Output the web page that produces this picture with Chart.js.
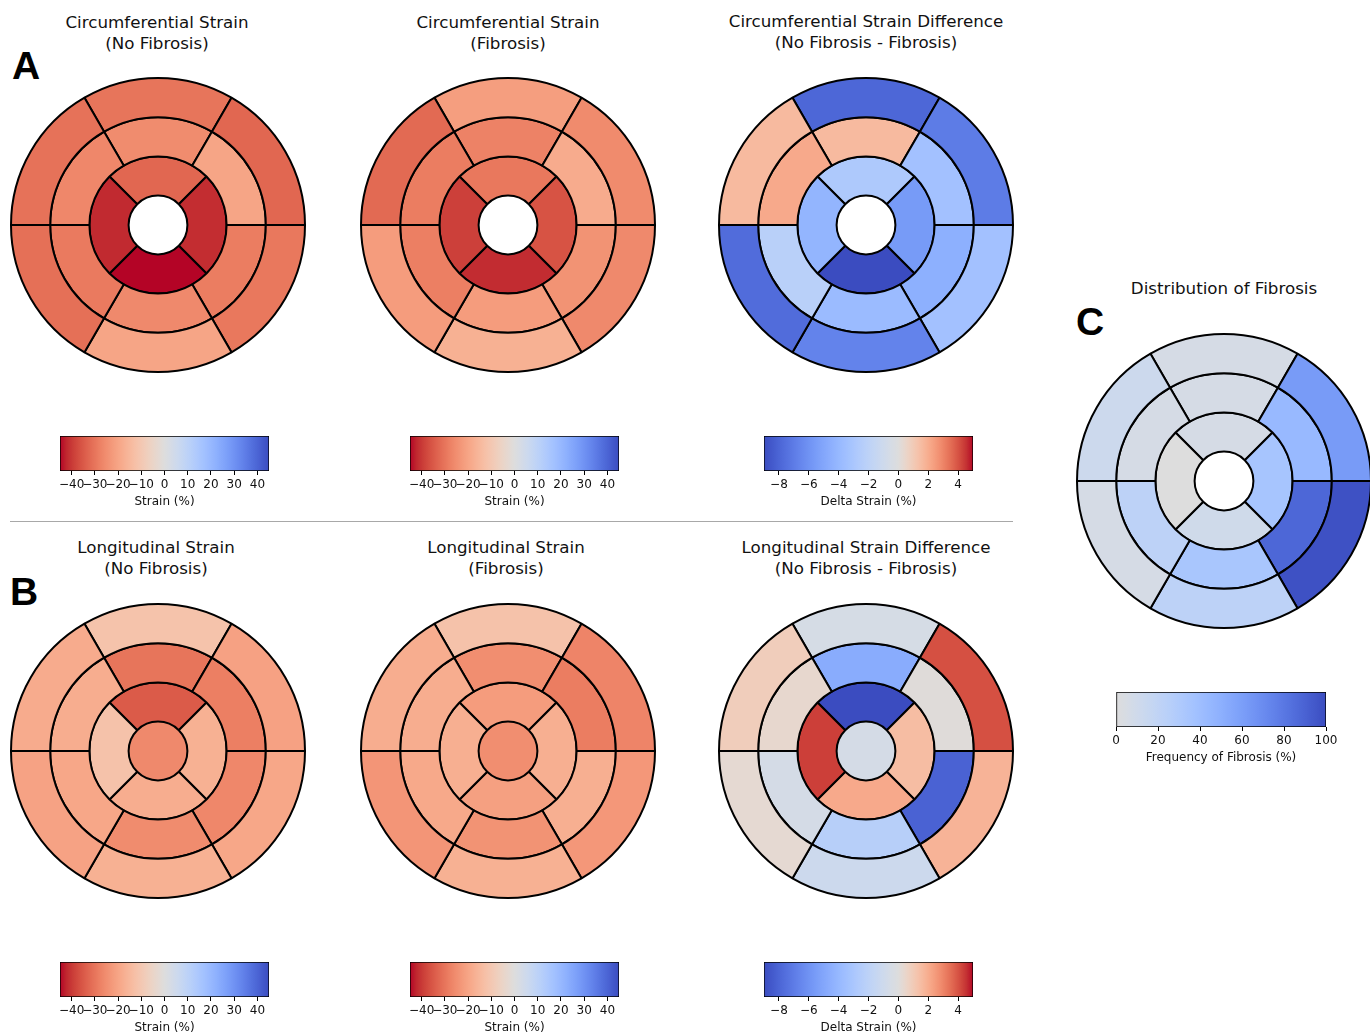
<!DOCTYPE html>
<html>
<head>
<meta charset="utf-8">
<script src="https://cdn.jsdelivr.net/npm/chart.js@4.4.1/dist/chart.umd.min.js"></script>
<style>
body { margin: 0; background: #fff; width: 1370px; height: 1033px; position: relative; overflow: hidden;
       font-family: "DejaVu Sans", sans-serif; color: #111; }
canvas { position: absolute; }
.title { position: absolute; font-size: 16.7px; line-height: 21px; text-align: center; white-space: nowrap; transform: translateX(-50%); }
.letter { position: absolute; font-family: "Liberation Sans", Arial, sans-serif; font-weight: bold; font-size: 39px; line-height: 1; color: #000; }
.sep { position: absolute; left: 10px; top: 521px; width: 1003px; height: 0; border-top: 1.5px solid #a8a8a8; }
</style>
</head>
<body>

<div class="letter" style="left:12px; top:46px;">A</div>
<div class="letter" style="left:10px; top:572px;">B</div>
<div class="letter" style="left:1076px; top:302px;">C</div>

<div class="title" style="left:157px; top:11.5px;">Circumferential Strain<br>(No Fibrosis)</div>
<div class="title" style="left:508px; top:11.5px;">Circumferential Strain<br>(Fibrosis)</div>
<div class="title" style="left:866px; top:10.5px;">Circumferential Strain Difference<br>(No Fibrosis - Fibrosis)</div>
<div class="title" style="left:156px; top:537px;">Longitudinal Strain<br>(No Fibrosis)</div>
<div class="title" style="left:506px; top:537px;">Longitudinal Strain<br>(Fibrosis)</div>
<div class="title" style="left:866px; top:537px;">Longitudinal Strain Difference<br>(No Fibrosis - Fibrosis)</div>
<div class="title" style="left:1224px; top:278px;">Distribution of Fibrosis</div>

<div class="sep"></div>

<canvas id="bullCircNoFib" width="310" height="310" style="left:3px; top:70px;"></canvas>
<canvas id="bullCircFib" width="310" height="310" style="left:353px; top:70px;"></canvas>
<canvas id="bullCircDiff" width="310" height="310" style="left:711px; top:70px;"></canvas>
<canvas id="bullLongNoFib" width="310" height="310" style="left:3px; top:596px;"></canvas>
<canvas id="bullLongFib" width="310" height="310" style="left:353px; top:596px;"></canvas>
<canvas id="bullLongDiff" width="310" height="310" style="left:711px; top:596px;"></canvas>
<canvas id="bullFibrosis" width="310" height="310" style="left:1069px; top:326px;"></canvas>

<canvas id="cbCircNoFib" width="259" height="79" style="left:35px; top:434px;"></canvas>
<canvas id="cbCircFib" width="259" height="79" style="left:385px; top:434px;"></canvas>
<canvas id="cbCircDiff" width="259" height="79" style="left:739px; top:434px;"></canvas>
<canvas id="cbLongNoFib" width="259" height="79" style="left:35px; top:960px;"></canvas>
<canvas id="cbLongFib" width="259" height="79" style="left:385px; top:960px;"></canvas>
<canvas id="cbLongDiff" width="259" height="79" style="left:739px; top:960px;"></canvas>
<canvas id="cbFibrosis" width="260" height="79" style="left:1091px; top:690px;"></canvas>

<script>
// Segment values in AHA order: 1-6 basal, 7-12 mid, 13-16 apical, 17 apex
// (1 anterior, 2 anteroseptal, 3 inferoseptal, 4 inferior, 5 inferolateral, 6 anterolateral;
//  13 anterior, 14 septal, 15 inferior, 16 lateral)
const circNoFibrosis = [-30, -30.5, -31, -20, -29.5, -32.5,
                        -25.5, -26.5, -29, -26, -28.5, -20,
                        -32.5, -42, -45, -41.5];
const circFibrosis = [-21.6, -32, -22, -17, -26, -25.7,
                      -27.5, -28.5, -28, -22, -24, -18.5,
                      -29.5, -39, -41.7, -36];
const circDifference = [-7.9, 1.6, -7.7, -6.7, -3.4, -7.0,
                        1.6, 2.1, -2.2, -3.8, -4.5, -3.4,
                        -2.8, -4.2, -9, -5.6];
const longNoFibrosis = [-11.7, -18.5, -20.5, -17, -19.5, -20.7,
                        -30, -18, -19.5, -25.5, -26.5, -28,
                        -34.6, -12, -18, -17,
                        -26];
const longFibrosis = [-12, -18, -23.5, -17, -23, -27,
                      -25, -18, -19, -24, -17.5, -28.5,
                      -22, -17.5, -21, -17.5,
                      -25];
const longDifference = [-0.5, 0.9, 0.3, -1.1, 1.8, 4.06,
                        -4.7, 0.4, -0.6, -2.3, -8.1, 0.1,
                        -9, 4.35, 2.1, 1.5,
                        -0.6];
const fibrosisFrequency = [6, 12, 6, 22, 98, 62,
                           6, 6, 22, 34, 88, 44,
                           6, 0, 10, 35];

// colour ranges and tick labels of the colour bars
const strainRange = [-45, 45];
const strainTicks = [-40, -30, -20, -10, 0, 10, 20, 30, 40];
const deltaRange = [-9, 5];
const deltaTicks = [-8, -6, -4, -2, 0, 2, 4];
const fibrosisRange = [0, 100];
const fibrosisTicks = [0, 20, 40, 60, 80, 100];

const FONT = '"DejaVu Sans", sans-serif';

// matplotlib coolwarm, 33 evenly spaced points
const CW_R = [0.2298057, 0.26623388, 0.30386891, 0.342804478, 0.38301334, 0.424369608, 0.46666708, 0.509635204,
  0.552953156, 0.596262162, 0.639176211, 0.681291281, 0.722193294, 0.761464949, 0.798691636, 0.833466556,
  0.865395197, 0.897787179, 0.924127593, 0.944468518, 0.958852946, 0.96732803, 0.969954137, 0.966811177,
  0.958003065, 0.943660866, 0.923944917, 0.89904617, 0.869186849, 0.834620542, 0.795631745, 0.752534934, 0.705673158];
const CW_G = [0.298717966, 0.353094838, 0.406535296, 0.458757618, 0.50941904, 0.558148092, 0.604562568, 0.648280772,
  0.688929332, 0.726149107, 0.759599947, 0.788964712, 0.813952739, 0.834302879, 0.849786142, 0.860207984,
  0.86541021, 0.848937047, 0.827384882, 0.800927443, 0.769767752, 0.734132809, 0.694266682, 0.650421156,
  0.602842431, 0.551750968, 0.49730856, 0.439559467, 0.378313092, 0.312874446, 0.24128379, 0.157246067, 0.01555616];
const CW_B = [0.753683153, 0.801466763, 0.84495867, 0.883725899, 0.917387822, 0.945619588, 0.968154911, 0.98478814,
  0.995375608, 0.999836203, 0.998151185, 0.990363227, 0.976574709, 0.956945269, 0.931688648, 0.901068838,
  0.865395561, 0.820880546, 0.774508472, 0.726736146, 0.678007945, 0.628751763, 0.579375448, 0.530263762,
  0.481775914, 0.434243684, 0.387970225, 0.343229596, 0.300267182, 0.259301199, 0.220525627, 0.184115123, 0.150232812];

function coolwarm(t) {
    t = Math.min(1, Math.max(0, t));
    const x = t * 32;
    const i = Math.min(31, Math.floor(x));
    const f = x - i;
    const ch = arr => Math.round(255 * (arr[i] + (arr[i + 1] - arr[i]) * f));
    return `rgb(${ch(CW_R)},${ch(CW_G)},${ch(CW_B)})`;
}

// strain uses reversed coolwarm (red = more negative)
const strainColor = v => coolwarm(1 - (v - strainRange[0]) / (strainRange[1] - strainRange[0]));
// delta uses a two-slope norm centred at 0
const deltaColor = v => coolwarm(v < 0 ? 0.5 * (v - deltaRange[0]) / (0 - deltaRange[0])
                                       : 0.5 + 0.5 * v / deltaRange[1]);
// fibrosis uses the blue half of coolwarm
const fibrosisColor = v => coolwarm(0.5 - 0.5 * (v - fibrosisRange[0]) / (fibrosisRange[1] - fibrosisRange[0]));


// one doughnut ring per AHA level, drawn clockwise from the top
function drawBullseye(id, values, colorOf) {
    const basal = [0, 5, 4, 3, 2, 1].map(i => values[i]);
    const mid = [6, 11, 10, 9, 8, 7].map(i => values[i]);
    const apical = [12, 15, 14, 13].map(i => values[i]);
    const apex = values.length > 16 ? values[16] : null;

    const ring = (vals, rot) => ({
        data: vals.map(() => 1),
        backgroundColor: vals.map(colorOf),
        borderColor: "#000",
        borderWidth: 2,
        rotation: rot,
        weight: 1
    });

    new Chart(document.getElementById(id), {
        type: "doughnut",
        data: {
            datasets: [
                ring(basal, -30),
                ring(mid, -30),
                ring(apical, -45),
                {
                    data: [1],
                    backgroundColor: apex === null ? "#ffffff" : colorOf(apex),
                    borderWidth: 0,
                    weight: 0.75
                }
            ]
        },
        options: {
            responsive: false,
            animation: false,
            events: [],
            cutout: 0,
            radius: 147,
            plugins: { legend: { display: false }, tooltip: { enabled: false } }
        }
    });
}

function barGradient(chart, lo, hi, colorOf) {
    const area = chart.chartArea;
    if (!area) return null;
    const g = chart.ctx.createLinearGradient(area.left, 0, area.right, 0);
    const n = 64;
    for (let i = 0; i <= n; i++) {
        g.addColorStop(i / n, colorOf(lo + (hi - lo) * i / n));
    }
    return g;
}

// colour bar = one floating horizontal bar filled with the colormap
function drawColorbar(id, range, ticks, label, colorOf) {
    new Chart(document.getElementById(id), {
        type: "bar",
        data: {
            labels: [""],
            datasets: [{
                data: [range],
                backgroundColor: ctx => barGradient(ctx.chart, range[0], range[1], colorOf),
                borderColor: "#000",
                borderWidth: 1,
                borderSkipped: false,
                barPercentage: 1,
                categoryPercentage: 1
            }]
        },
        options: {
            indexAxis: "y",
            responsive: false,
            animation: false,
            events: [],
            layout: { padding: { left: 25, right: 25, top: 2, bottom: 4 } },
            plugins: { legend: { display: false }, tooltip: { enabled: false } },
            scales: {
                x: {
                    type: "linear",
                    min: range[0],
                    max: range[1],
                    afterBuildTicks: s => { s.ticks = ticks.map(v => ({ value: v })); },
                    afterFit: s => { s.height = 38; },
                    grid: { display: true, drawOnChartArea: false, drawTicks: true, tickLength: 4, color: "#000", lineWidth: 1 },
                    border: { display: false },
                    ticks: {
                        color: "#111",
                        font: { family: FONT, size: 12 },
                        padding: 3,
                        maxRotation: 0,
                        autoSkip: false,
                        callback: v => String(v).replace("-", "\u2212")
                    },
                    title: { display: true, text: label, color: "#111", font: { family: FONT, size: 12 }, padding: 0 }
                },
                y: { display: false }
            }
        }
    });
}

drawBullseye("bullCircNoFib", circNoFibrosis, strainColor);
drawBullseye("bullCircFib", circFibrosis, strainColor);
drawBullseye("bullCircDiff", circDifference, deltaColor);
drawBullseye("bullLongNoFib", longNoFibrosis, strainColor);
drawBullseye("bullLongFib", longFibrosis, strainColor);
drawBullseye("bullLongDiff", longDifference, deltaColor);
drawBullseye("bullFibrosis", fibrosisFrequency, fibrosisColor);

drawColorbar("cbCircNoFib", strainRange, strainTicks, "Strain (%)", strainColor);
drawColorbar("cbCircFib", strainRange, strainTicks, "Strain (%)", strainColor);
drawColorbar("cbCircDiff", deltaRange, deltaTicks, "Delta Strain (%)", deltaColor);
drawColorbar("cbLongNoFib", strainRange, strainTicks, "Strain (%)", strainColor);
drawColorbar("cbLongFib", strainRange, strainTicks, "Strain (%)", strainColor);
drawColorbar("cbLongDiff", deltaRange, deltaTicks, "Delta Strain (%)", deltaColor);
drawColorbar("cbFibrosis", fibrosisRange, fibrosisTicks, "Frequency of Fibrosis (%)", fibrosisColor);
</script>
</body>
</html>
